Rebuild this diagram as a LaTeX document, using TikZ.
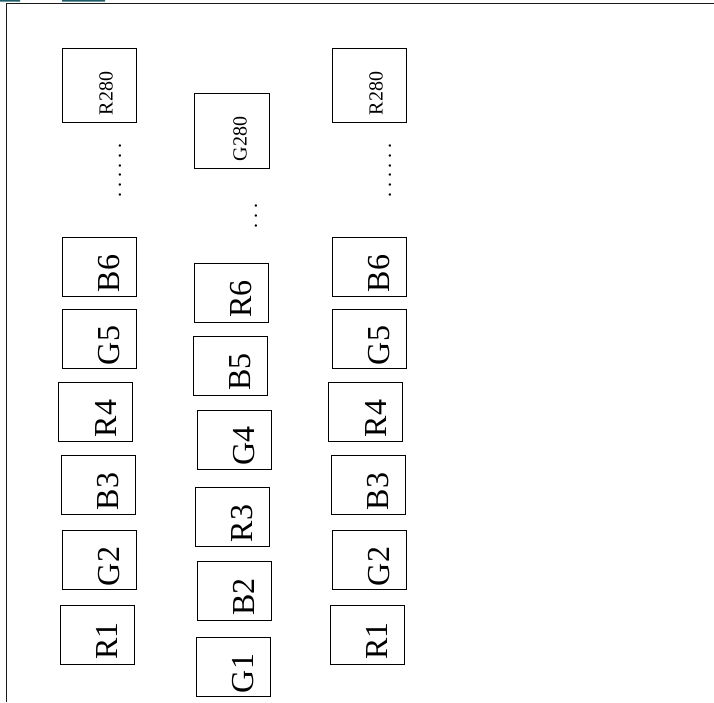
\documentclass[tikz,border=0pt]{standalone}
\usepackage{fontspec}
\setmainfont{Liberation Serif}
\definecolor{tabteal}{HTML}{1E5C68}
\definecolor{frameink}{HTML}{1A1A1A}
\newcommand\dt{.\kern4.8pt}

\begin{document}
\begin{tikzpicture}[x=1pt,y=1pt,
    cell/.style={draw,line width=.9pt,minimum width=74pt,minimum height=59pt,inner sep=0pt},
    bigcell/.style={cell,minimum height=74pt},
    tag/.style={rotate=90,inner sep=0pt,font=\fontsize{32}{34}\selectfont},
    smalltag/.style={rotate=90,inner sep=0pt,font=\fontsize{20}{22}\selectfont},
    dotrow/.style={rotate=90,inner sep=0pt,font=\fontsize{20}{22}\selectfont}]
    \useasboundingbox (0,0) rectangle (714,702);
    % frame
    \fill[tabteal] (0,700.4) rectangle (20,702) (62,700.4) rectangle (105,702);
    \draw[frameink,line width=1.3pt] (6.5,0) -- (6.5,698.5) -- (714,698.5);
    % outer columns
    \foreach \c/\dx in {a/0,c/270}{
      \foreach \n/\t/\x/\y in {r1/R1/97/67.5,g2/G2/99.5/142,b3/B3/98.5/217,
                               r4/R4/95.5/290,g5/G5/99.5/363,b6/B6/99.5/435}{
        \node[cell] (\c-\n) at (\x+\dx,\y) {};
        \node[tag] (\c-\n-t) at ([shift={(10,-6.5)}]\c-\n.center) {\t};
      }
      \node[bigcell] (\c-r280) at (99.5+\dx,616.5) {};
      \node[smalltag] (\c-r280-t) at ([shift={(6.5,-8)}]\c-r280.center) {R280};
      \node[dotrow] (\c-dots) at (120+\dx,531.5) {\dt\dt\dt\dt\dt.};
    }
    % middle column
    \foreach \n/\t/\x/\y in {g1/G1/233/35,b2/B2/234/111.5,r3/R3/232/185,
                             g4/G4/234.5/262.5,b5/B5/230/336.5,r6/R6/231/409.5}{
      \node[cell] (b-\n) at (\x,\y) {};
      \node[tag] (b-\n-t) at ([shift={(10,-6.5)}]b-\n.center) {\t};
    }
    \node[bigcell,minimum width=75pt,minimum height=75pt] (b-g280) at (232,571) {};
    \node[smalltag] (b-g280-t) at ([shift={(8,-8)}]b-g280.center) {G280};
    \node[dotrow] (b-dots) at (256,486) {\dt\dt.};
\end{tikzpicture}
\end{document}
